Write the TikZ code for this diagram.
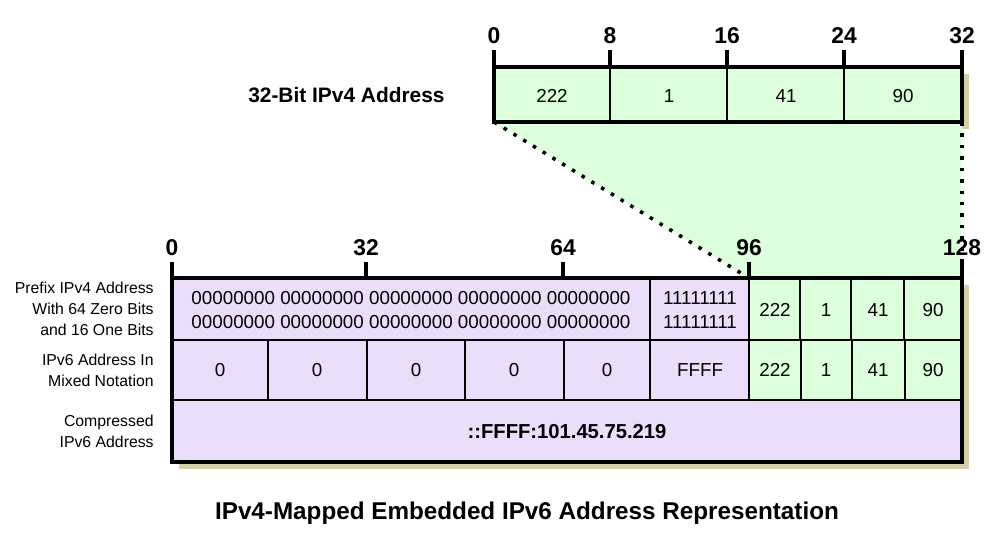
\documentclass[tikz,border=0pt]{standalone}
\usepackage{fontspec}
\setmainfont{Liberation Sans}
\definecolor{cellgreen}{RGB}{221,255,221}
\definecolor{cellpurple}{RGB}{235,222,251}
\definecolor{shadowtan}{RGB}{214,207,168}

\begin{document}
\begin{tikzpicture}
  [x=0.02cm,y=-0.02cm,
   every node/.style={inner sep=0pt,font=\fontsize{10.7}{12}\selectfont},
   tick/.style={line width=2.3pt},
   ticklabel/.style={anchor=base,font=\fontsize{13}{14}\selectfont\bfseries},
   rowlabel/.style={anchor=east,align=right,font=\fontsize{9}{11.9}\selectfont},
   outer/.style={line width=2.3pt},
   inner/.style={line width=1.1pt},
   dots/.style={line width=2pt,dash pattern=on 2pt off 4.5pt}]

  \useasboundingbox (0,0) rectangle (1000,535);

  % shadows
  \fill[shadowtan] (501,74) rectangle (969,129);
  \fill[shadowtan] (179,285) rectangle (969,469);

  % zoomed part
  \coordinate (a0) at (494,122);
  \coordinate (a32) at (962,122);
  \coordinate (b96) at (749,278);
  \coordinate (b128) at (962,278);
  \fill[cellgreen] (a0) -- (a32) -- (b128) -- (b96) -- cycle;
  \draw[dots] (a0) -- (b96);
  \draw[dots] (a32) -- (b128);

  % 32-bit box
  \fill[cellgreen] (494,67) rectangle (962,122);
  \foreach \x in {610,727,844}
    \draw[inner] (\x,67) -- (\x,122);
  \draw[outer] (494,67) rectangle (962,122);
  \foreach \x/\l in {494/0,610/8,727/16,844/24,962/32} {
    \draw[tick] (\x,50) -- (\x,67);
    \node[ticklabel] (t\l) at (\x,43) {\l};
  }
  \foreach \x/\v [count=\i] in {552/222,669/1,786/41,903/90}
    \node (v\i) at (\x,96) {\v};
  \node[font=\fontsize{11.9}{12}\selectfont\bfseries,anchor=east] (n32) at (445,95) {32-Bit IPv4 Address};

  % 128-bit box
  \fill[cellpurple] (172,278) rectangle (962,462);
  \fill[cellgreen] (749,278) rectangle (962,400);
  \draw[inner] (172,340) -- (962,340);
  \draw[inner] (172,400) -- (962,400);
  \foreach \x in {650,749}
    \draw[inner] (\x,278) -- (\x,400);
  \foreach \x in {800,851,904}
    \draw[inner] (\x,278) -- (\x,340);
  \foreach \x in {268,367,465,564,801,852,905}
    \draw[inner] (\x,340) -- (\x,400);
  \draw[outer] (172,278) rectangle (962,462);
  \foreach \x/\l in {172/0,366/32,563/64,749/96,962/128} {
    \draw[tick] (\x,262) -- (\x,278);
    \node[ticklabel] (b\l) at (\x,255) {\l};
  }

  % row 1
  \node (z1) at (411,298) {00000000 00000000 00000000 00000000 00000000};
  \node (z2) at (411,322) {00000000 00000000 00000000 00000000 00000000};
  \node (o1) at (700,298) {11111111};
  \node (o2) at (700,322) {11111111};
  \foreach \x/\v [count=\i] in {775/222,826/1,878/41,933/90}
    \node (p\i) at (\x,310) {\v};

  % row 2
  \foreach \x/\v [count=\i] in {220/0,317/0,416/0,514/0,607/0,700/FFFF,775/222,826/1,878/41,933/90}
    \node (m\i) at (\x,370) {\v};

  % row 3
  \node[font=\fontsize{11.5}{12}\selectfont\bfseries] (c1) at (567,432) {::FFFF:101.45.75.219};

  % row labels
  \node[rowlabel] (r1) at (154,309) {Prefix IPv4 Address\\With 64 Zero Bits\\and 16 One Bits};
  \node[rowlabel] (r2) at (154,370) {IPv6 Address In\\Mixed Notation};
  \node[rowlabel] (r3) at (154,431) {Compressed\\IPv6 Address};

  \node[font=\fontsize{13.8}{14}\selectfont\bfseries] (title) at (527,513) {IPv4-Mapped Embedded IPv6 Address Representation};
\end{tikzpicture}
\end{document}
